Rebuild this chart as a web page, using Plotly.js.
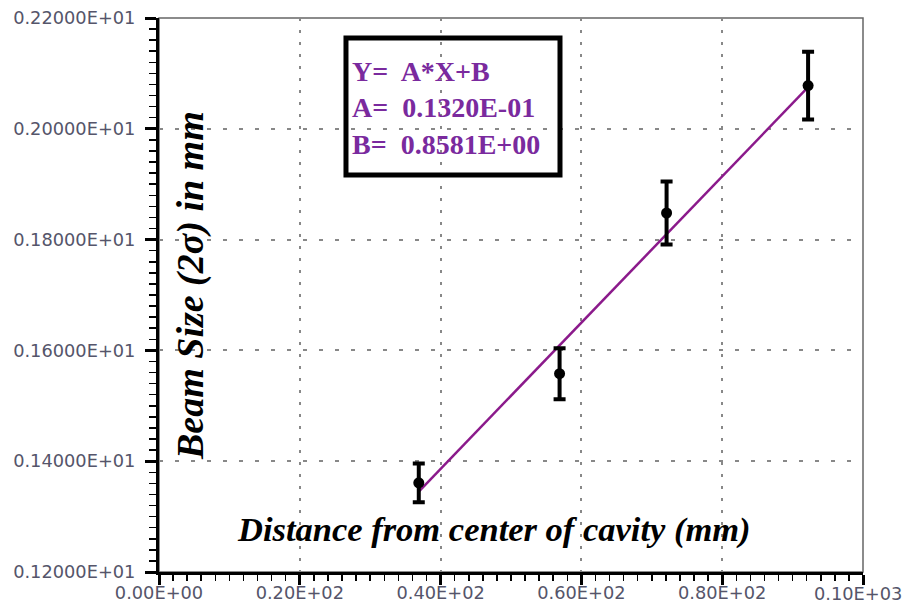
<!DOCTYPE html>
<html>
<head>
<meta charset="utf-8">
<script src="https://cdn.plot.ly/plotly-3.0.1.min.js"></script>
<style>html,body{margin:0;padding:0;background:#fff;}#chart{width:904px;height:606px;}</style>
</head>
<body>
<div id="chart"></div>
<script>
// Data
const distance = [36.9, 56.9, 72.1, 92.2];          // mm
const beamSize = [1.361, 1.558, 1.848, 2.078];       // mm
const beamErr  = [0.035, 0.046, 0.057, 0.061];       // mm
const fitA = 0.01320;
const fitB = 0.8581;
const fitX = [36.9, 92.2];
const fitY = fitX.map(x => fitA * x + fitB);

const xTickVals = [0, 20, 40, 60, 80, 100];
const xTickText = ["0.00E+00", "0.20E+02", "0.40E+02", "0.60E+02", "0.80E+02", "0.10E+03"];
const yTickVals = [1.2, 1.4, 1.6, 1.8, 2.0, 2.2];
const yTickText = ["0.12000E+01", "0.14000E+01", "0.16000E+01", "0.18000E+01", "0.20000E+01", "0.22000E+01"];
const boxLines = ["Y=&nbsp; A*X+B", "A=&nbsp; 0.1320E-01", "B=&nbsp; 0.8581E+00"];

const purple = '#7a2a9e';
const tickFont = {family: 'DejaVu Sans', size: 17.8, color: '#55556a'};

// The last x tick label sits at the right page edge; draw it as a right-anchored label so it stays whole.
const lastX = xTickText.length - 1;
const xTickTextAxis = xTickText.map((t, i) => i === lastX ? '' : t);

const traces = [
  {
    x: fitX, y: fitY, type: 'scatter', mode: 'lines',
    line: {color: '#8b1a8b', width: 2.5}, hoverinfo: 'skip', showlegend: false
  },
  {
    x: distance, y: beamSize, type: 'scatter', mode: 'markers',
    marker: {color: '#000', size: 11, symbol: 'circle'},
    error_y: {type: 'data', array: beamErr, visible: true, color: '#000', thickness: 4, width: 6},
    showlegend: false
  }
];

const boxTop = 0.964, boxBottom = 0.7166;
const lineYs = [0.904, 0.838, 0.771];

const annotations = [
  {
    xref: 'paper', yref: 'paper', x: 0.476, y: 0.076, xanchor: 'center', yanchor: 'middle',
    text: '<b><i>Distance from center of cavity (mm)</i></b>', showarrow: false,
    font: {family: 'Liberation Serif', size: 34.5, color: '#000'}
  },
  {
    xref: 'paper', yref: 'paper', x: 0.044, y: 0.518, xanchor: 'center', yanchor: 'middle',
    textangle: -90,
    text: '<b><i>Beam Size (2σ) in mm</i></b>', showarrow: false,
    font: {family: 'Liberation Serif', size: 38, color: '#000'}
  },
  {
    xref: 'paper', yref: 'paper', x: 1.0568, y: -0.038, xanchor: 'right', yanchor: 'middle',
    text: xTickText[lastX], showarrow: false, font: tickFont, borderpad: 0
  }
].concat(boxLines.map((t, i) => ({
  xref: 'paper', yref: 'paper', x: 0.272, y: lineYs[i], xanchor: 'left', yanchor: 'middle',
  text: '<b>' + t + '</b>', showarrow: false,
  font: {family: 'Liberation Serif', size: 28, color: purple}
})));

const layout = {
  width: 904, height: 606,
  margin: {l: 159, r: 41, t: 18, b: 34},
  paper_bgcolor: '#fff', plot_bgcolor: '#fff',
  showlegend: false,
  xaxis: {
    range: [0, 100], tickmode: 'array', tickvals: xTickVals, ticktext: xTickTextAxis,
    tickfont: tickFont, ticks: 'outside', ticklen: 10, tickwidth: 3, tickcolor: '#000',
    ticklabelstandoff: -7, ticklabeloverflow: 'allow',
    showline: true, linecolor: '#000', linewidth: 3, zeroline: false,
    showgrid: true, gridcolor: '#888', gridwidth: 2, griddash: '3px,9px',
    minor: {dtick: 2, ticks: 'outside', ticklen: 6, tickwidth: 1.5, tickcolor: '#000', showgrid: false},
    fixedrange: true
  },
  yaxis: {
    range: [1.2, 2.2], tickmode: 'array', tickvals: yTickVals, ticktext: yTickText,
    tickfont: tickFont, ticks: 'outside', ticklen: 11, tickwidth: 3, tickcolor: '#000',
    ticklabelstandoff: 6, ticklabeloverflow: 'allow',
    showline: true, linecolor: '#000', linewidth: 3, zeroline: false,
    showgrid: true, gridcolor: '#888', gridwidth: 2, griddash: '4px,12px',
    minor: {dtick: 0.02, ticks: 'outside', ticklen: 7, tickwidth: 1.5, tickcolor: '#000', showgrid: false},
    fixedrange: true
  },
  shapes: [
    {type: 'rect', xref: 'paper', yref: 'paper', x0: 0, x1: 1, y0: 0, y1: 1,
     line: {color: '#666', width: 1.5}, layer: 'below'},
    {type: 'rect', xref: 'paper', yref: 'paper', x0: 0.2656, x1: 0.5696, y0: boxBottom, y1: boxTop,
     line: {color: '#000', width: 5}, layer: 'above'}
  ],
  annotations: annotations
};

Plotly.newPlot('chart', traces, layout, {displayModeBar: false, staticPlot: true});
</script>
</body>
</html>
